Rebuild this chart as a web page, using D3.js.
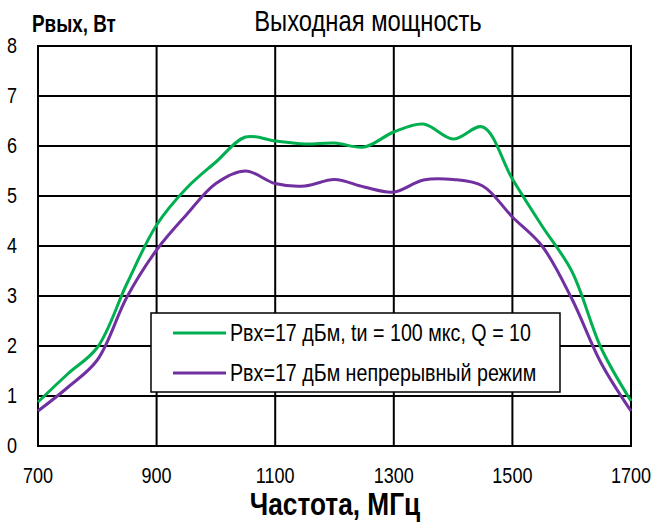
<!DOCTYPE html>
<html>
<head>
<meta charset="utf-8">
<script src="https://cdn.jsdelivr.net/npm/d3@7"></script>
<style>
  body { margin: 0; background: #fff; }
  text { font-family: "Liberation Sans", Arial, sans-serif; fill: #000; }
</style>
</head>
<body>
<div class="chart"></div>
<script>
// частоты, МГц
var freq = [700,750,800,850,900,950,1000,1050,1100,1150,1200,1250,1300,1350,1400,1450,1500,1550,1600,1650,1700]
// импульсный режим
var pulse = [0.88,1.44,1.97,3.25,4.42,5.15,5.68,6.18,6.1,6.04,6.06,5.98,6.28,6.44,6.14,6.38,5.34,4.4,3.5,1.95,0.9]
// непрерывный режим
var cw = [0.7,1.17,1.72,2.98,3.92,4.62,5.25,5.5,5.25,5.2,5.33,5.18,5.08,5.32,5.33,5.2,4.58,4.0,2.95,1.65,0.7]

var xTicks = [700,900,1100,1300,1500,1700]
var yTicks = [0,1,2,3,4,5,6,7,8]
var names = ["Рвх=17 дБм, tи = 100 мкс, Q = 10", "Рвх=17 дБм непрерывный режим"]
var colors = ["#00b050", "#7030a0"]

var width = 654
var height = 523
var pLeft = 38, pRight = 631, pTop = 46, pBottom = 446
var narrow = 0.82  // Arial Narrow ~ сжатый Arial

var svg = d3.select(".chart")
    .append("svg")
    .attr("width", width)
    .attr("height", height)

var x = d3.scaleLinear().domain([700,1700]).range([pLeft,pRight])
var y = d3.scaleLinear().domain([0,8]).range([pBottom,pTop])

// узкий текст
function label(tx, ty, str, size, anchor, bold) {
    return svg.append("g")
        .attr("transform", "translate(" + tx + "," + ty + ") scale(" + narrow + ",1)")
        .append("text")
        .attr("text-anchor", anchor || "start")
        .style("font-size", size + "px")
        .style("font-weight", bold ? "bold" : "normal")
        .text(str)
}

// сетка
svg.selectAll(".vgrid")
    .data(xTicks)
    .enter()
    .append("line")
    .attr("x1", d=>x(d)).attr("x2", d=>x(d))
    .attr("y1", pTop).attr("y2", pBottom)
    .attr("stroke", "#000")
    .attr("stroke-width", 2)

svg.selectAll(".hgrid")
    .data(yTicks)
    .enter()
    .append("line")
    .attr("x1", pLeft - 1).attr("x2", pRight + 1)
    .attr("y1", d=>y(d)).attr("y2", d=>y(d))
    .attr("stroke", "#000")
    .attr("stroke-width", 2)

// подписи осей
xTicks.forEach(d => label(x(d), 483, d, 22, "middle"))
yTicks.forEach(d => label(17, y(d) + 7, d, 22, "end"))

// кривые
var line = d3.line()
    .x((d,i)=>x(freq[i]))
    .y(d=>y(d))
    .curve(d3.curveCatmullRom.alpha(0.5))

;[pulse, cw].forEach(function(s, k) {
    svg.append("path")
        .attr("d", line(s))
        .attr("fill", "none")
        .attr("stroke", colors[k])
        .attr("stroke-width", 3)
})

// легенда
svg.append("rect")
    .attr("x", 151).attr("y", 313)
    .attr("width", 409).attr("height", 79)
    .attr("fill", "#fff")
    .attr("stroke", "#000")
    .attr("stroke-width", 1.5)

names.forEach(function(n, k) {
    var ly = 333 + k*40
    svg.append("line")
        .attr("x1", 173).attr("x2", 226)
        .attr("y1", ly).attr("y2", ly)
        .attr("stroke", colors[k])
        .attr("stroke-width", 3)
    label(230, ly + 8, n, 24, "start")
})

// заголовки
label(368, 31, "Выходная мощность", 29, "middle")
label(32, 32, "Рвых, Вт", 23, "start", true)
label(335, 515, "Частота, МГц", 32, "middle", true)
</script>
</body>
</html>
